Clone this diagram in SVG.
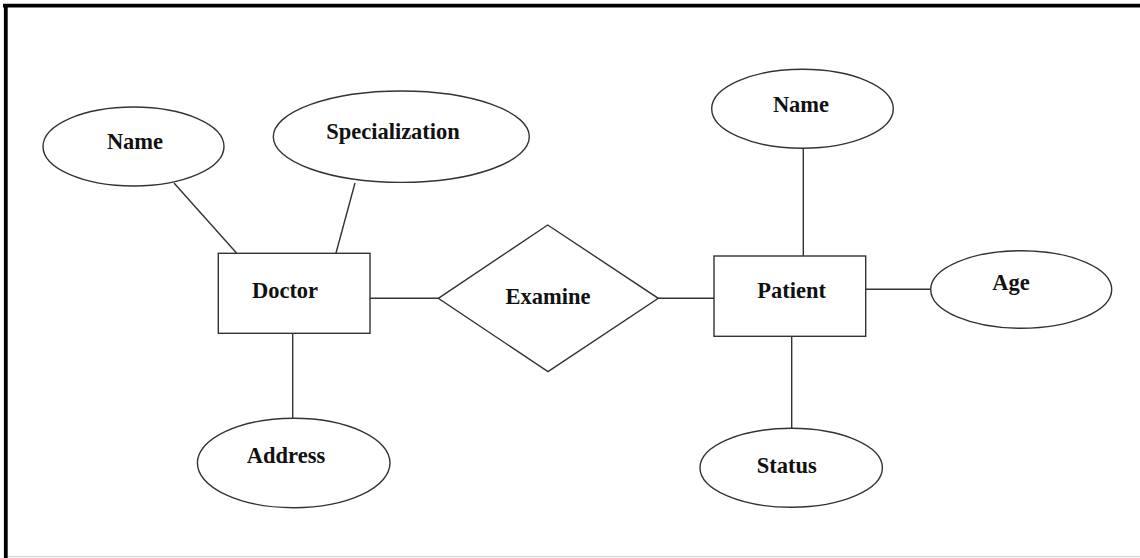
<svg xmlns="http://www.w3.org/2000/svg" width="1140" height="558" viewBox="0 0 1140 558">
<style>
.shape{fill:#fff;stroke:#333;stroke-width:1.4}
.conn line{stroke:#333;stroke-width:1.4}
.lbl{font-family:"Liberation Serif","Times New Roman",serif;font-weight:bold;font-size:22.5px;fill:#111;text-anchor:middle}
</style>
<rect x="0" y="0" width="1140" height="558" fill="#fff"/>
<g id="frame">
<line x1="3" y1="5.6" x2="1140" y2="5.6" stroke="#000" stroke-width="3.6"/>
<line x1="5.8" y1="4" x2="5.8" y2="558" stroke="#000" stroke-width="3.8"/>
<line x1="8" y1="556.6" x2="1140" y2="556.6" stroke="#d4d4d4" stroke-width="1.2"/>
</g>
<g class="conn" id="connectors">
<line x1="174" y1="183" x2="236.5" y2="253"/>
<line x1="355" y1="183" x2="336" y2="253"/>
<line x1="292.7" y1="333" x2="292.7" y2="418.5"/>
<line x1="370" y1="298.3" x2="438.5" y2="298.3"/>
<line x1="658" y1="298.3" x2="714" y2="298.3"/>
<line x1="803.3" y1="148.3" x2="803.3" y2="256"/>
<line x1="866" y1="289.3" x2="930.7" y2="289.3"/>
<line x1="791.7" y1="336.3" x2="791.7" y2="428.3"/>
</g>
<g id="doctor-name">
<ellipse class="shape" cx="133.5" cy="146.5" rx="90.5" ry="39.5"/>
<text class="lbl" x="135" y="149">Name</text>
</g>
<g id="specialization">
<ellipse class="shape" cx="401.3" cy="136.7" rx="128" ry="45.7"/>
<text class="lbl" x="393" y="138.5">Specialization</text>
</g>
<g id="doctor">
<rect class="shape" x="218.3" y="253.3" width="151.7" height="80"/>
<text class="lbl" x="285" y="298">Doctor</text>
</g>
<g id="address">
<ellipse class="shape" cx="293.7" cy="463" rx="96.3" ry="44.7"/>
<text class="lbl" x="286" y="463">Address</text>
</g>
<g id="examine">
<polygon class="shape" points="438.3,298.3 547.7,225 658.3,298.3 548,371.7"/>
<text class="lbl" x="548" y="303.5">Examine</text>
</g>
<g id="patient">
<rect class="shape" x="714" y="256" width="151.7" height="80.3"/>
<text class="lbl" x="791.7" y="297.5">Patient</text>
</g>
<g id="patient-name">
<ellipse class="shape" cx="802.5" cy="108.8" rx="90.8" ry="39.5"/>
<text class="lbl" x="801" y="112">Name</text>
</g>
<g id="age">
<ellipse class="shape" cx="1021.2" cy="289.5" rx="90.5" ry="38.8"/>
<text class="lbl" x="1011" y="290">Age</text>
</g>
<g id="status">
<ellipse class="shape" cx="791.2" cy="467.8" rx="91.2" ry="39.5"/>
<text class="lbl" x="786.7" y="473">Status</text>
</g>
</svg>
